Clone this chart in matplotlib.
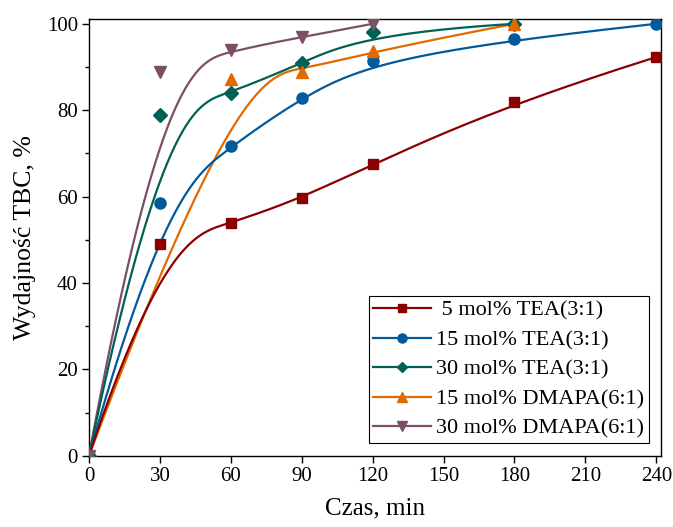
import numpy as np
import matplotlib
matplotlib.use("Agg")
import matplotlib.pyplot as plt
from matplotlib.ticker import MultipleLocator

plt.rcParams['font.family'] = ['Liberation Serif', 'DejaVu Serif']

# Reaction time, min
t_tea5 = [0, 30, 60, 90, 120, 180, 240]
y_tea5 = [0, 49.0, 53.8, 59.7, 67.5, 82.0, 92.3]

t_tea15 = [0, 30, 60, 90, 120, 180, 240]
y_tea15 = [0, 58.6, 71.7, 82.9, 91.4, 96.4, 100.0]

t_tea30 = [0, 30, 60, 90, 120, 180]
y_tea30 = [0, 78.8, 83.9, 91.0, 98.0, 100.0]

t_dmapa15 = [0, 60, 90, 120, 180]
y_dmapa15 = [0, 87.2, 88.9, 93.7, 100.0]

t_dmapa30 = [0, 30, 60, 90, 120]
y_dmapa30 = [0, 88.9, 94.0, 96.9, 100.0]

labels = [" 5 mol% TEA(3:1)", "15 mol% TEA(3:1)", "30 mol% TEA(3:1)",
          "15 mol% DMAPA(6:1)", "30 mol% DMAPA(6:1)"]
colors = ["#8B0000", "#005A9C", "#006154", "#E06A00", "#7B4F66"]
markers = ["s", "o", "D", "^", "v"]
msizes = [7, 8, 7, 8, 8]

xticks = [0, 30, 60, 90, 120, 150, 180, 210, 240]
yticks = [0, 20, 40, 60, 80, 100]


def bspline_connector(xs, ys, n=400):
    """Clamped cubic B-spline that uses the data points as control points."""
    P = np.column_stack([xs, ys]).astype(float)
    m = len(P)
    k = min(3, m - 1)
    inner = np.arange(1, m - k)
    knots = np.concatenate([np.zeros(k + 1), inner, np.full(k + 1, m - k)])
    us = np.linspace(0, m - k, n)
    out = []
    for u in us:
        if u >= knots[-1]:
            s = m - 1
        else:
            s = np.searchsorted(knots, u, side='right') - 1
        d = [P[j].copy() for j in range(s - k, s + 1)]
        for r in range(1, k + 1):
            for j in range(k, r - 1, -1):
                i = j + s - k
                den = knots[i + k - r + 1] - knots[i]
                a = 0.0 if den == 0 else (u - knots[i]) / den
                d[j] = (1 - a) * d[j - 1] + a * d[j]
        out.append(d[k])
    out = np.array(out)
    return out[:, 0], out[:, 1]


series = [(t_tea5, y_tea5), (t_tea15, y_tea15), (t_tea30, y_tea30),
          (t_dmapa15, y_dmapa15), (t_dmapa30, y_dmapa30)]
line_z = [7, 6, 5, 4, 3]

fig = plt.figure(figsize=(6.73, 5.27), dpi=100)
ax = fig.add_axes([0.1322, 0.135, 0.85, 0.828])

handles = []
for (xs, ys), lab, c, mk, ms, z in zip(series, labels, colors, markers, msizes, line_z):
    cx, cy = bspline_connector(xs, ys)
    ax.plot(cx, cy, color=c, lw=1.6, zorder=z, solid_capstyle='butt')
    ax.plot(xs, ys, linestyle='none', marker=mk, ms=ms, color=c,
            markeredgecolor=c, zorder=10)
    h, = ax.plot([], [], color=c, lw=1.6, marker=mk, ms=ms - 1.5,
                 markeredgecolor=c)
    handles.append(h)

ax.set_xlim(0, 242)
ax.set_ylim(0, 101)
ax.set_xticks(xticks)
ax.set_yticks(yticks)
ax.yaxis.set_minor_locator(MultipleLocator(10))
ax.tick_params(axis='both', which='major', direction='out', length=5,
               width=1.0, labelsize=15, pad=3)
ax.tick_params(axis='y', which='minor', direction='out', length=3, width=1.0)
for sp in ax.spines.values():
    sp.set_linewidth(1.0)

ax.set_xlabel("Czas, min", fontsize=18, labelpad=8)
ax.set_ylabel("Wydajność TBC, %", fontsize=18.5, labelpad=8)

leg = ax.legend(handles, labels, loc='lower right', fontsize=16,
                frameon=True, fancybox=False, edgecolor='black',
                framealpha=1, handlelength=2.6, handletextpad=0.25,
                borderpad=0.2, labelspacing=0.4, borderaxespad=0,
                bbox_to_anchor=(0.979, 0.029))
leg.get_frame().set_linewidth(0.8)

fig.savefig("out.png", dpi=100)
